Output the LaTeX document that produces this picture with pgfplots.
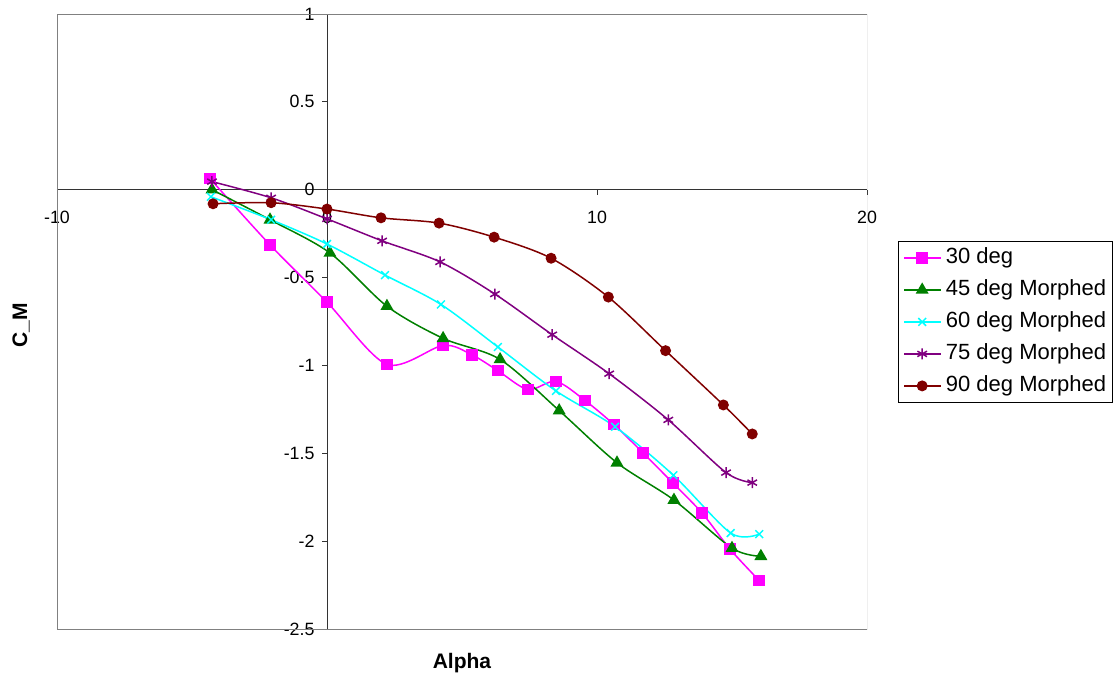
\documentclass[border=0pt]{standalone}
\usepackage{fontspec}
\setmainfont{Liberation Sans}
\usepackage{pgfplots}
\pgfplotsset{compat=1.18}
\definecolor{mag}{HTML}{FF00FF}
\definecolor{grn}{HTML}{008000}
\definecolor{cyn}{HTML}{00FFFF}
\definecolor{pur}{HTML}{800080}
\definecolor{brn}{HTML}{800000}
\begin{document}
\begin{tikzpicture}[x=1pt,y=1pt]
\useasboundingbox (0,0) rectangle (1119,683);
\begin{axis}[
 at={(57pt,54pt)}, anchor=south west,
 scale only axis, width=810pt, height=615pt,
 xmin=-10, xmax=20, ymin=-2.5, ymax=1,
 axis lines=middle,
 axis line style={black!80, line width=0.8pt, -},
 xtick={-10,0,10,20}, ytick={-2.5,-2,-1.5,-1,-0.5,0,0.5,1},
 hide obscured x ticks=false, hide obscured y ticks=false,
 tick align=outside, major tick length=5pt,
 tick style={black!80, line width=0.8pt},
 ticklabel style={font=\fontsize{17.8}{20}\selectfont},
 xticklabel style={yshift=-13pt},
 yticklabel style={xshift=-4pt},
 /pgf/number format/assume math mode=true,
 xlabel={Alpha}, ylabel={C\_M},
 xlabel style={at={(axis description cs:0.5,-0.0553)}, anchor=center, font=\fontsize{21}{24}\selectfont\bfseries},
 ylabel style={at={(axis description cs:-0.0444,0.494)}, anchor=center, rotate=90, font=\fontsize{21}{24}\selectfont\bfseries},
 every axis plot/.append style={line width=1.5pt, smooth},
 legend image code/.code={
   \draw[mark repeat=2,mark phase=2] plot coordinates {(0pt,0pt) (18pt,0pt) (36pt,0pt)};
 },
 legend cell align=left,
 legend style={at={(axis description cs:1.0383,0.6309)}, anchor=north west,
   draw=black, line width=0.8pt, fill=white,
   font=\fontsize{22}{26}\selectfont,
   inner xsep=5pt, inner ysep=5pt,
   nodes={inner sep=1pt, text height=16pt, text depth=5pt},
   row sep=9pt, column sep=4pt},
]
\draw[gray, line width=0.8pt] (rel axis cs:0,0) rectangle (rel axis cs:1,1);
\addplot[color=mag, mark=square*, mark size=5pt, mark options={fill=mag}] table {
-4.33 0.063
-2.11 -0.314
0 -0.64
2.22 -0.994
4.30 -0.886
5.37 -0.94
6.33 -1.03
7.44 -1.137
8.48 -1.091
9.56 -1.2
10.63 -1.337
11.70 -1.497
12.81 -1.669
13.89 -1.84
14.93 -2.046
16.0 -2.223
};
\addlegendentry{30 deg}
\addplot[color=grn, mark=triangle*, mark size=6pt, mark options={fill=grn}] table {
-4.26 0.0
-2.11 -0.171
0.11 -0.36
2.22 -0.663
4.30 -0.846
6.41 -0.966
8.6 -1.257
10.74 -1.554
12.85 -1.766
15.0 -2.04
16.07 -2.086
};
\addlegendentry{45 deg Morphed}
\addplot[color=cyn, mark=x, mark size=5.5pt] table {
-4.3 -0.04
-2.07 -0.171
0 -0.309
2.15 -0.486
4.22 -0.653
6.33 -0.895
8.48 -1.145
10.67 -1.349
12.83 -1.625
14.95 -1.954
16.01 -1.96
};
\addlegendentry{60 deg Morphed}
\addplot[color=pur, mark=asterisk, mark size=5.5pt] table {
-4.26 0.046
-2.07 -0.046
0 -0.166
2.04 -0.291
4.19 -0.411
6.22 -0.594
8.34 -0.825
10.45 -1.047
12.64 -1.31
14.78 -1.61
15.75 -1.667
};
\addlegendentry{75 deg Morphed}
\addplot[color=brn, mark=*, mark size=4.7pt, mark options={fill=brn}] table {
-4.22 -0.08
-2.07 -0.074
0 -0.11
2.0 -0.16
4.15 -0.19
6.19 -0.27
8.3 -0.39
10.42 -0.611
12.54 -0.916
14.68 -1.225
15.75 -1.39
};
\addlegendentry{90 deg Morphed}
\end{axis}
\end{tikzpicture}
\end{document}
